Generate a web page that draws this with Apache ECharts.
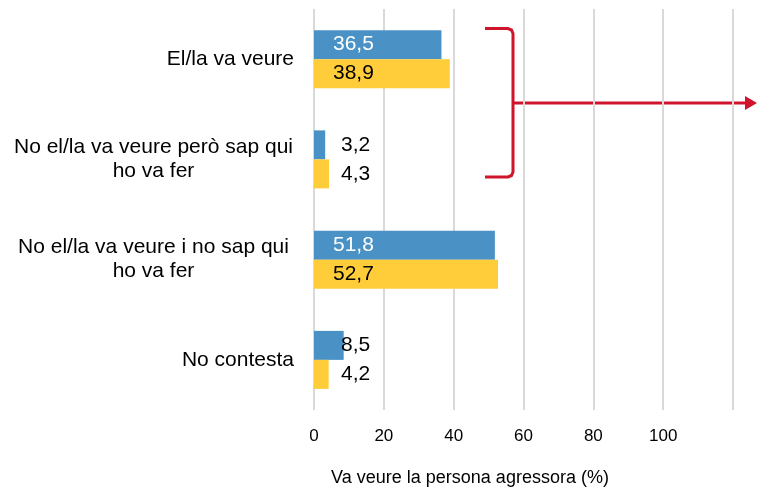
<!DOCTYPE html>
<html>
<head>
<meta charset="utf-8">
<script src="https://cdn.jsdelivr.net/npm/echarts@6/dist/echarts.min.js"></script>
<style>
  html, body { margin: 0; padding: 0; background: #fff; }
  #chart { width: 758px; height: 489px; }
</style>
</head>
<body>
<div id="chart"></div>
<script>
const categorias = [
  'El/la va veure',
  'No el/la va veure però sap qui\nho va fer',
  'No el/la va veure i no sap qui\nho va fer',
  'No contesta'
]
const valoresAzul = [36.5, 3.2, 51.8, 8.5]
const valoresAmarelo = [38.9, 4.3, 52.7, 4.2]
const ticks = [0, 20, 40, 60, 80, 100]
const nomeEixo = 'Va veure la persona agressora (%)'

const vermelho = '#D0142C'
const fonte = '"Liberation Sans", Arial, sans-serif'

// rótulo dentro da barra se ela for grande, senão fora à direita
function montaDados(valores, corDentro) {
  return valores.map((v) => {
    const grande = v > 20
    return {
      value: v,
      label: {
        color: grande ? corDentro : '#000',
        position: grande ? [19, '50%'] : [27, '50%']
      }
    }
  })
}

const labelBase = {
  show: true,
  align: 'left',
  verticalAlign: 'middle',
  fontSize: 21,
  fontFamily: fonte,
  formatter: (p) => p.value.toFixed(1).replace('.', ',')
}

const myChart = echarts.init(document.getElementById('chart'))

myChart.setOption({
  animation: false,
  grid: { left: 314, right: 25, top: 9, bottom: 79 },
  xAxis: {
    type: 'value',
    min: 0,
    max: 120,
    interval: 20,
    axisLine: { show: false },
    axisTick: { show: false },
    axisLabel: {
      color: '#000',
      fontSize: 17,
      fontFamily: fonte,
      margin: 18,
      formatter: (v) => ticks.includes(v) ? String(v) : ''
    },
    splitLine: { lineStyle: { color: '#d9d9d9', width: 2 } }
  },
  yAxis: {
    type: 'category',
    inverse: true,
    data: categorias,
    axisLine: { show: false },
    axisTick: { show: false },
    axisLabel: {
      color: '#000',
      fontSize: 21,
      lineHeight: 24,
      fontFamily: fonte,
      margin: 20,
      align: 'right',
      // linhas de rótulos com duas linhas ficam centradas entre si
      formatter: (v) => v.includes('\n')
        ? v.split('\n').map((l) => '{c|' + l + '}').join('\n')
        : v,
      rich: {
        c: { width: 281, align: 'center', fontSize: 21, lineHeight: 24, fontFamily: fonte, color: '#000' }
      }
    }
  },
  series: [
    {
      type: 'bar',
      barWidth: 29,
      barGap: '0%',
      itemStyle: { color: '#4A91C5' },
      label: labelBase,
      data: montaDados(valoresAzul, '#fff')
    },
    {
      type: 'bar',
      barWidth: 29,
      itemStyle: { color: '#FFCD3A' },
      label: labelBase,
      data: montaDados(valoresAmarelo, '#000')
    }
  ],
  graphic: [
    {
      type: 'polyline',
      shape: {
        points: [[485, 28.5], [508, 28.5], [511.5, 30], [513, 33.5], [513, 172], [511.5, 175.5], [508, 177], [485, 177]]
      },
      style: { fill: null, stroke: vermelho, lineWidth: 3 }
    },
    {
      type: 'line',
      shape: { x1: 513, y1: 103, x2: 748, y2: 103 },
      style: { stroke: vermelho, lineWidth: 3 }
    },
    {
      type: 'polygon',
      shape: { points: [[745, 96], [757, 103], [745, 110]] },
      style: { fill: vermelho }
    },
    {
      type: 'text',
      x: 470,
      y: 478,
      style: {
        text: nomeEixo,
        fill: '#000',
        font: '18px ' + fonte,
        align: 'center',
        verticalAlign: 'middle'
      }
    }
  ]
})
</script>
</body>
</html>
